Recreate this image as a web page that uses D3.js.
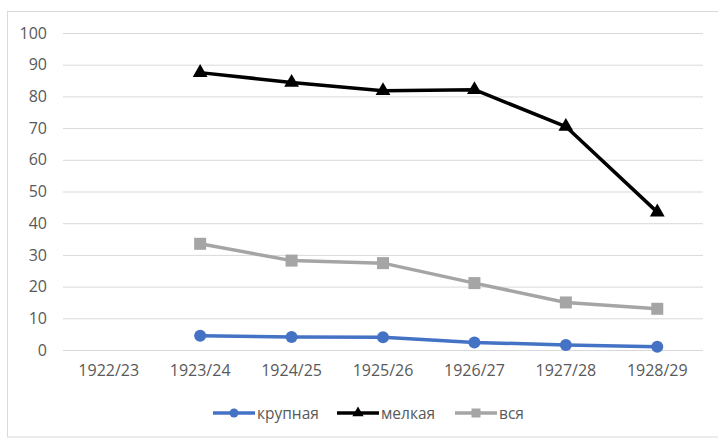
<!DOCTYPE html>
<html>
<head>
<meta charset="utf-8">
<script src="https://cdn.jsdelivr.net/npm/d3@7"></script>
<style>
  body { margin: 0; background: #fff; }
  svg text { font-family: "Open Sans", "Liberation Sans", Arial, sans-serif; fill: #595959; }
</style>
</head>
<body>
<svg id="chart" width="718" height="438"></svg>
<script>
const years = ["1922/23", "1923/24", "1924/25", "1925/26", "1926/27", "1927/28", "1928/29"];
const krupnaya = [null, 4.5, 4.1, 4.0, 2.4, 1.6, 1.0];
const melkaya = [null, 87.5, 84.4, 81.8, 82.1, 70.5, 43.5];
const vsya = [null, 33.5, 28.2, 27.4, 21.1, 15.0, 13.0];
const yTicks = [0, 10, 20, 30, 40, 50, 60, 70, 80, 90, 100];

const series = [
  { name: "крупная", values: krupnaya, color: "#4472C4", marker: "circle" },
  { name: "мелкая", values: melkaya, color: "#000000", marker: "triangle" },
  { name: "вся", values: vsya, color: "#A5A5A5", marker: "square" }
];

const fontFamily = "'Open Sans', 'Liberation Sans', Arial, sans-serif";
const svg = d3.select("#chart");

// chart area frame
svg.append("rect")
  .attr("x", 7.5).attr("y", 11.5)
  .attr("width", 720).attr("height", 425.5)
  .attr("fill", "none")
  .attr("stroke", "#d9d9d9");

const plot = { left: 63, right: 703, top: 33, bottom: 350 };

const x = d3.scaleBand().domain(years).range([plot.left, plot.right]);
const y = d3.scaleLinear().domain([0, 100]).range([plot.bottom, plot.top]);

// grid
svg.append("g")
  .attr("transform", `translate(${plot.left},0)`)
  .call(d3.axisLeft(y).tickValues(yTicks).tickSize(-(plot.right - plot.left)).tickFormat(""))
  .call(g => g.select(".domain").remove())
  .call(g => g.selectAll("line").attr("stroke", "#d9d9d9").attr("stroke-width", 1));

// y labels
svg.append("g")
  .attr("transform", `translate(${plot.left},0)`)
  .call(d3.axisLeft(y).tickValues(yTicks).tickSize(0).tickPadding(16))
  .call(g => g.select(".domain").remove())
  .call(g => g.selectAll("text").attr("font-size", 16).attr("fill", "#595959")
    .style("font-family", fontFamily));

// x labels
svg.append("g")
  .attr("transform", `translate(0,${plot.bottom})`)
  .call(d3.axisBottom(x).tickSize(0).tickPadding(15))
  .call(g => g.select(".domain").remove())
  .call(g => g.selectAll("text").attr("font-size", 16).attr("fill", "#595959")
    .style("font-family", fontFamily));

const cx = i => x(years[i]) + x.bandwidth() / 2;

function drawMarker(g, type, px, py, color) {
  if (type === "circle") {
    g.append("circle").attr("cx", px).attr("cy", py).attr("r", 6).attr("fill", color);
  } else if (type === "triangle") {
    g.append("path")
      .attr("d", d3.symbol(d3.symbolTriangle, 95)())
      .attr("transform", `translate(${px},${py})`)
      .attr("fill", color);
  } else {
    g.append("rect").attr("x", px - 6).attr("y", py - 6)
      .attr("width", 12).attr("height", 12).attr("fill", color);
  }
}

const line = d3.line()
  .defined(d => d.v != null)
  .x(d => cx(d.i))
  .y(d => y(d.v));

series.forEach(s => {
  const pts = s.values.map((v, i) => ({ v, i }));
  const g = svg.append("g");
  g.append("path")
    .datum(pts)
    .attr("d", line)
    .attr("fill", "none")
    .attr("stroke", s.color)
    .attr("stroke-width", 3.5)
    .attr("stroke-linejoin", "round");
  pts.filter(d => d.v != null).forEach(d => drawMarker(g, s.marker, cx(d.i), y(d.v), s.color));
});

// legend
const legendX = [213, 337, 455];
const legendY = 413;
series.forEach((s, k) => {
  const g = svg.append("g");
  const x0 = legendX[k];
  g.append("line")
    .attr("x1", x0).attr("x2", x0 + 42)
    .attr("y1", legendY).attr("y2", legendY)
    .attr("stroke", s.color).attr("stroke-width", 3.5);
  const m = x0 + 21;
  if (s.marker === "circle") {
    g.append("circle").attr("cx", m).attr("cy", legendY).attr("r", 4.5).attr("fill", s.color);
  } else if (s.marker === "triangle") {
    g.append("path").attr("d", d3.symbol(d3.symbolTriangle, 55)())
      .attr("transform", `translate(${m},${legendY})`).attr("fill", s.color);
  } else {
    g.append("rect").attr("x", m - 4.5).attr("y", legendY - 4.5)
      .attr("width", 9).attr("height", 9).attr("fill", s.color);
  }
  g.append("text")
    .attr("x", x0 + 44).attr("y", legendY + 5.5)
    .attr("font-size", 15.5)
    .style("font-family", fontFamily)
    .text(s.name);
});
</script>
</body>
</html>
